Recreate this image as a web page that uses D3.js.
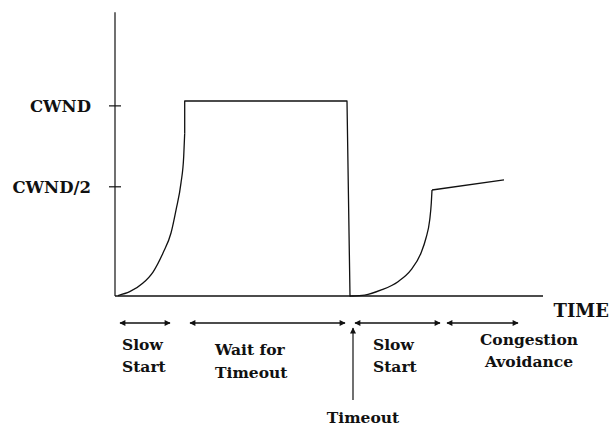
<!DOCTYPE html>
<meta charset="utf-8">
<style>

body {
  margin: 0;
  background: #fff;
}

text {
  font-family: "DejaVu Serif", "Liberation Serif", serif;
  font-weight: bold;
  fill: #111;
}

.axis-line, .cwnd-line, .phase, .tick {
  fill: none;
  stroke: #111;
}

</style>
<body><svg width="609" height="428"></svg></body>
<script src="https://d3js.org/d3.v7.min.js"></script>
<script>

// congestion window (time units / window units)
// slow start 1, hold until timeout, slow start 2, congestion avoidance
var ss1Time = [0.3, 1.47, 2.8, 3.8, 4.8, 5.6, 6.1, 6.6, 6.87, 6.97];
var ss1Size = [0.05, 0.44, 1.33, 2.46, 4.41, 6.46, 8.82, 11.6, 14.3, 16.7];
var holdTime = [6.97, 6.97, 23.2, 23.5, 23.63];
var holdSize = [16.7, 20, 20, 0, 0];
var ss2Time = [23.63, 24.97, 26.63, 28.3, 29.6, 30.6, 31.1, 31.47, 31.63, 31.7];
var ss2Size = [0, 0.1, 0.62, 1.47, 2.67, 4.41, 5.95, 7.79, 9.54, 10.87];
var caTime = [31.7, 38.9];
var caSize = [10.87, 11.9];

var tickLabels = ["CWND", "CWND/2"];
var tickValues = [19.5, 11.2];

// phases under the time axis
var phaseStart = [0.5, 7.5, 24.0, 33.2];
var phaseEnd = [5.5, 23.0, 32.5, 40.3];
var phaseLine1 = ["Slow", "Wait for", "Slow", "Congestion"];
var phaseLine2 = ["Start", "Timeout", "Start", "Avoidance"];
var phaseTextAt = [0.7, 10.0, 25.8, 41.4];
var phaseAnchor = ["start", "start", "start", "middle"];

var timeoutAt = 23.8;

var svg = d3.select("svg");

var x = d3.scaleLinear().domain([0, 42.8]).range([115, 543]);
var y = d3.scaleLinear().domain([0, 20]).range([296, 101]);

var defs = svg.append("defs");
defs.append("marker")
    .attr("id", "head")
    .attr("viewBox", "0 0 10 10")
    .attr("refX", 9)
    .attr("refY", 5)
    .attr("markerWidth", 7)
    .attr("markerHeight", 6)
    .attr("markerUnits", "userSpaceOnUse")
    .attr("orient", "auto-start-reverse")
  .append("path")
    .attr("d", "M0,0L10,5L0,10z")
    .attr("fill", "#111");

// axes
svg.append("line")
    .attr("class", "axis-line")
    .attr("x1", x(0)).attr("x2", x(0))
    .attr("y1", y(29.1)).attr("y2", y(0))
    .attr("stroke-width", 1.2);

svg.append("line")
    .attr("class", "axis-line")
    .attr("x1", x(0)).attr("x2", x(42.8))
    .attr("y1", y(0)).attr("y2", y(0))
    .attr("stroke-width", 1.6);

svg.selectAll(".tick")
    .data(tickValues)
  .enter().append("line")
    .attr("class", "tick")
    .attr("x1", x(0) - 6).attr("x2", x(0) + 6)
    .attr("y1", function(d) { return y(d); })
    .attr("y2", function(d) { return y(d); })
    .attr("stroke-width", 1.2);

svg.selectAll(".tick-label")
    .data(tickValues)
  .enter().append("text")
    .attr("class", "tick-label")
    .attr("x", x(0) - 24)
    .attr("y", function(d) { return y(d) + 6; })
    .attr("text-anchor", "end")
    .attr("font-size", 16.5)
    .text(function(d, i) { return tickLabels[i]; });

svg.append("text")
    .attr("x", 609)
    .attr("y", 317)
    .attr("text-anchor", "end")
    .attr("font-size", 18)
    .text("TIME");

// window
var smooth = d3.line()
    .x(function(d) { return x(d[0]); })
    .y(function(d) { return y(d[1]); })
    .curve(d3.curveMonotoneX);

var straight = d3.line()
    .x(function(d) { return x(d[0]); })
    .y(function(d) { return y(d[1]); });

var pieces = [
  {pts: d3.zip(ss1Time, ss1Size), gen: smooth},
  {pts: d3.zip(holdTime, holdSize), gen: straight},
  {pts: d3.zip(ss2Time, ss2Size), gen: smooth},
  {pts: d3.zip(caTime, caSize), gen: straight}
];

svg.selectAll(".cwnd-line")
    .data(pieces)
  .enter().append("path")
    .attr("class", "cwnd-line")
    .attr("stroke-width", 1.3)
    .attr("stroke-linejoin", "round")
    .attr("d", function(d) { return d.gen(d.pts); });

// phases
svg.selectAll(".phase")
    .data(phaseStart)
  .enter().append("line")
    .attr("class", "phase")
    .attr("x1", function(d) { return x(d); })
    .attr("x2", function(d, i) { return x(phaseEnd[i]); })
    .attr("y1", 323).attr("y2", 323)
    .attr("stroke-width", 1.3)
    .attr("marker-start", "url(#head)")
    .attr("marker-end", "url(#head)");

var labels = svg.selectAll(".phase-label")
    .data(phaseTextAt)
  .enter().append("text")
    .attr("class", "phase-label")
    .attr("font-size", 15.5)
    .attr("text-anchor", function(d, i) { return phaseAnchor[i]; });

labels.append("tspan")
    .attr("x", function(d) { return x(d); })
    .attr("y", function(d, i) { return i == 3 ? 345 : (i == 1 ? 355 : 350); })
    .text(function(d, i) { return phaseLine1[i]; });

labels.append("tspan")
    .attr("x", function(d) { return x(d); })
    .attr("y", function(d, i) { return i == 3 ? 367 : (i == 1 ? 378 : 372); })
    .text(function(d, i) { return phaseLine2[i]; });

// timeout marker
svg.append("line")
    .attr("class", "phase")
    .attr("x1", x(timeoutAt)).attr("x2", x(timeoutAt))
    .attr("y1", 400).attr("y2", 328)
    .attr("stroke-width", 1.2)
    .attr("marker-end", "url(#head)");

svg.append("text")
    .attr("x", x(timeoutAt) + 10)
    .attr("y", 423)
    .attr("text-anchor", "middle")
    .attr("font-size", 15.5)
    .text("Timeout");

</script>
